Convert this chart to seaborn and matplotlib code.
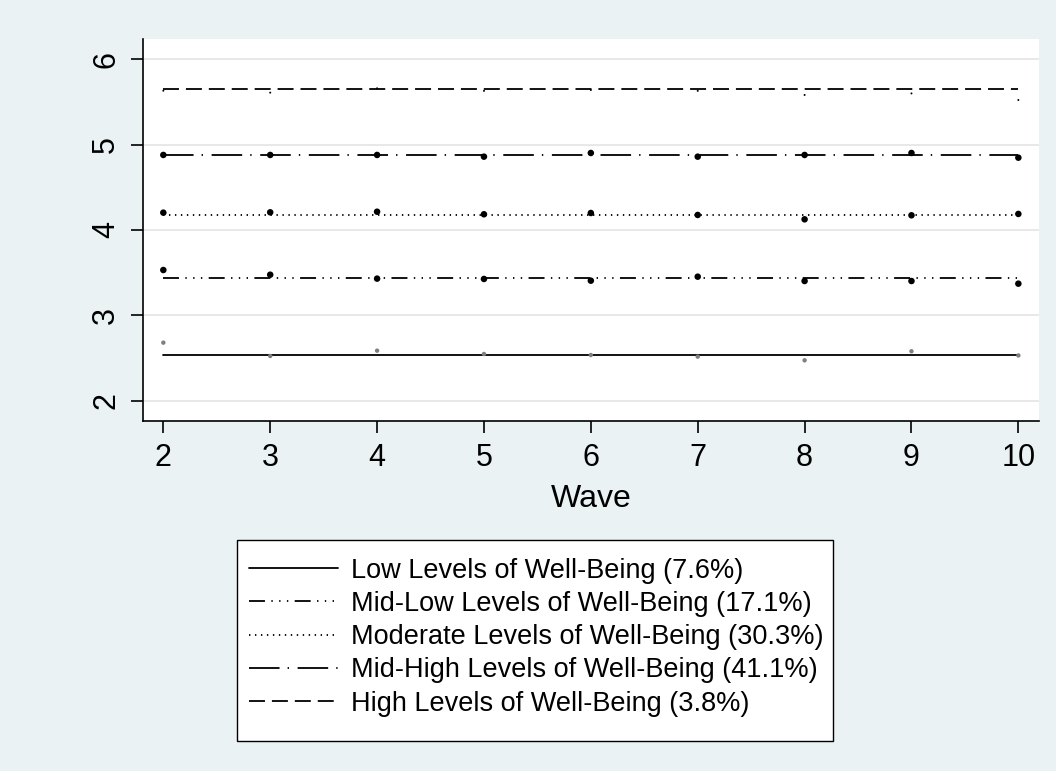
import matplotlib
matplotlib.use("Agg")
import matplotlib.pyplot as plt
from matplotlib.patches import Rectangle
import seaborn as sns
import pandas as pd

# Survey waves
waves = [2, 3, 4, 5, 6, 7, 8, 9, 10]

# Observed group means per wave
low_means = [2.68, 2.524, 2.586, 2.547, 2.535, 2.516, 2.473, 2.579, 2.53]
midlow_means = [3.531, 3.476, 3.43, 3.426, 3.406, 3.453, 3.402, 3.402, 3.371]
moderate_means = [4.203, 4.207, 4.214, 4.184, 4.199, 4.176, 4.125, 4.172, 4.188]
midhigh_means = [4.879, 4.879, 4.879, 4.859, 4.902, 4.859, 4.879, 4.902, 4.847]
high_means = [5.632, 5.609, 5.66, 5.63, 5.64, 5.63, 5.582, 5.60, 5.523]

# Fitted (flat) trajectory level per group
fit_levels = [2.539, 3.434, 4.176, 4.875, 5.652]

group_labels = [
    "Low Levels of Well-Being (7.6%)",
    "Mid-Low Levels of Well-Being (17.1%)",
    "Moderate Levels of Well-Being (30.3%)",
    "Mid-High Levels of Well-Being (41.1%)",
    "High Levels of Well-Being (3.8%)",
]

all_means = [low_means, midlow_means, moderate_means, midhigh_means, high_means]

# Styling per group
dash_styles = [
    None,
    (11.5, 4.6, 1.0, 4.6, 1.0, 4.6, 1.0, 4.6),
    (1.0, 3.3),
    (22.0, 5.8, 1.0, 6.2),
    (11.5, 5.0),
]
marker_colors = ["#7f7f7f", "black", "black", "black", "black"]
marker_sizes = [10, 22, 22, 22, 2]

sns.set_theme(style="white")
plt.rcParams["font.family"] = ["Liberation Sans", "DejaVu Sans"]
plt.rcParams["text.color"] = "black"
plt.rcParams["lines.scale_dashes"] = False

W, H = 1056, 771
fig = plt.figure(figsize=(W / 100, H / 100), dpi=100)
fig.patch.set_facecolor("#EAF2F3")

ax_left, ax_right, ax_top, ax_bottom = 142.7, 1039.3, 39.3, 421.0
ax = fig.add_axes([ax_left / W, 1 - ax_bottom / H,
                   (ax_right - ax_left) / W, (ax_bottom - ax_top) / H])
ax.set_facecolor("white")

handles = []
for label, means, fit, dash, mc, ms in zip(group_labels, all_means, fit_levels,
                                         dash_styles, marker_colors, marker_sizes):
    df = pd.DataFrame({"wave": waves, "mean": means, "fit": [fit] * len(waves)})
    sns.lineplot(data=df, x="wave", y="fit", ax=ax, color="black",
                 linewidth=1.3, label=label, legend=False)
    line = ax.lines[-1]
    if dash is not None:
        line.set_linestyle((0, dash))
    handles.append(line)
    sns.scatterplot(data=df, x="wave", y="mean", ax=ax, color=mc, s=ms,
                    edgecolor="none", linewidth=0, legend=False, zorder=3)

ax.set_xlim(1.807, 10.196)
ax.set_ylim(1.762, 6.234)
ax.set_xticks(waves)
ax.set_yticks([2, 3, 4, 5, 6])
ax.yaxis.grid(True, color="#E6E6E6", linewidth=1.3)
ax.xaxis.grid(False)
ax.set_axisbelow(True)

for side in ["top", "right"]:
    ax.spines[side].set_visible(False)
for side in ["left", "bottom"]:
    ax.spines[side].set_color("black")
    ax.spines[side].set_linewidth(1.2)

ax.tick_params(axis="both", which="major", direction="out", length=8.5,
               width=1.2, color="black", labelsize=22, labelcolor="black",
               left=True, bottom=True, pad=7)
plt.setp(ax.get_yticklabels(), rotation=90, va="center")

ax.set_xlabel("Wave", fontsize=23, color="black", labelpad=8)
ax.set_ylabel("")

# Legend box (white panel with black border) below the plot
box_l, box_t, box_r, box_b = 237, 540, 833, 741
fig.patches.append(Rectangle((box_l / W, 1 - box_b / H),
                             (box_r - box_l) / W, (box_b - box_t) / H,
                             transform=fig.transFigure, facecolor="white",
                             edgecolor="black", linewidth=1.0, zorder=1))

leg = fig.legend(handles, group_labels, loc="upper left",
                 bbox_to_anchor=(249 / W, 1 - 557.5 / H),
                 frameon=False, fontsize=19.5, labelcolor="black",
                 handlelength=3.3, handletextpad=0.47, labelspacing=0.27,
                 borderpad=0, borderaxespad=0)
leg.set_zorder(2)

fig.savefig("out.png", dpi=100, facecolor=fig.get_facecolor())
